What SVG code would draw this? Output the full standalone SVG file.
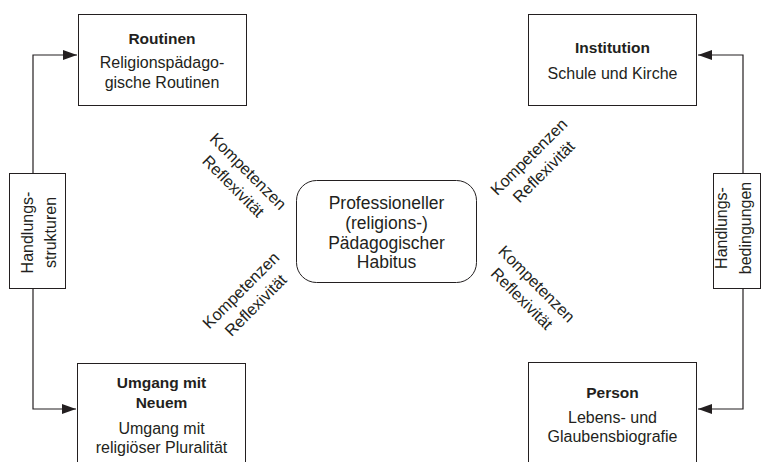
<svg xmlns="http://www.w3.org/2000/svg" width="761" height="462" viewBox="0 0 761 462">
<style>
  text { font-family: "Liberation Sans", Arial, sans-serif; fill: #231f20; text-anchor: middle; }
  .box { fill: #ffffff; stroke: #231f20; stroke-width: 1; }
  .title { font-weight: bold; font-size: 15.5px; }
  .body { font-size: 16px; }
  .center { font-size: 17.5px; }
  .rot { font-size: 16.3px; }
  .side { font-size: 16px; }
  .conn { fill: none; stroke: #231f20; stroke-width: 1.2; marker-end: url(#arrow); }
</style>
<defs>
  <marker id="arrow" markerUnits="userSpaceOnUse" markerWidth="15" markerHeight="11" refX="14" refY="5" orient="auto">
    <path d="M0,0 L14,5 L0,10 z" fill="#231f20"/>
  </marker>
</defs>
<rect width="761" height="462" fill="#ffffff"/>

<g id="connectors">
  <path class="conn" d="M33,173 V55 H77"/>
  <path class="conn" d="M33,288 V409 H76"/>
  <path class="conn" d="M743,173 V55 H698"/>
  <path class="conn" d="M743,288 V409 H698"/>
</g>

<g id="routinen">
  <rect class="box" x="78.5" y="14.5" width="168" height="91"/>
  <text class="title" x="162" y="44">Routinen</text>
  <text class="body" x="162" y="68">Religionspädago-</text>
  <text class="body" x="162" y="88">gische Routinen</text>
</g>

<g id="institution">
  <rect class="box" x="528.5" y="14.5" width="168" height="91"/>
  <text class="title" x="612.5" y="53">Institution</text>
  <text class="body" x="612.5" y="79">Schule und Kirche</text>
</g>

<g id="umgang">
  <rect class="box" x="77.5" y="363.5" width="168" height="110"/>
  <text class="title" x="161.5" y="388">Umgang mit</text>
  <text class="title" x="161.5" y="408">Neuem</text>
  <text class="body" x="161.5" y="434">Umgang mit</text>
  <text class="body" x="161.5" y="453">religiöser Pluralität</text>
</g>

<g id="person">
  <rect class="box" x="528.5" y="362.5" width="168" height="110"/>
  <text class="title" x="612.5" y="398">Person</text>
  <text class="body" x="612.5" y="423">Lebens- und</text>
  <text class="body" x="612.5" y="442">Glaubensbiografie</text>
</g>

<g id="handlungsstrukturen">
  <rect class="box" x="9.5" y="173.5" width="56" height="115"/>
  <g transform="translate(0,232.5) rotate(-90)">
    <text class="side" x="0" y="33">Handlungs-</text>
    <text class="side" x="0" y="55.5">strukturen</text>
  </g>
</g>

<g id="handlungsbedingungen">
  <rect class="box" x="713.5" y="173.5" width="47" height="115"/>
  <g transform="translate(0,228) rotate(-90)">
    <text class="side" x="0" y="727">Handlungs-</text>
    <text class="side" x="0" y="750.5">bedingungen</text>
  </g>
</g>

<g id="habitus">
  <rect class="box" x="296.5" y="180.5" width="180" height="102" rx="20" ry="20"/>
  <text class="center" x="386.5" y="209">Professioneller</text>
  <text class="center" x="386.5" y="229">(religions-)</text>
  <text class="center" x="386.5" y="248.5">Pädagogischer</text>
  <text class="center" x="386.5" y="268">Habitus</text>
</g>

<g id="label-top-left" transform="translate(240,179.5) rotate(45)">
  <text class="rot" x="0" y="-6">Kompetenzen</text>
  <text class="rot" x="0" y="15">Reflexivität</text>
</g>
<g id="label-top-right" transform="translate(537,165) rotate(-45)">
  <text class="rot" x="0" y="-6">Kompetenzen</text>
  <text class="rot" x="0" y="15">Reflexivität</text>
</g>
<g id="label-bottom-left" transform="translate(249,298.5) rotate(-45)">
  <text class="rot" x="0" y="-6">Kompetenzen</text>
  <text class="rot" x="0" y="15">Reflexivität</text>
</g>
<g id="label-bottom-right" transform="translate(528.5,292) rotate(45)">
  <text class="rot" x="0" y="-6">Kompetenzen</text>
  <text class="rot" x="0" y="15">Reflexivität</text>
</g>
</svg>
